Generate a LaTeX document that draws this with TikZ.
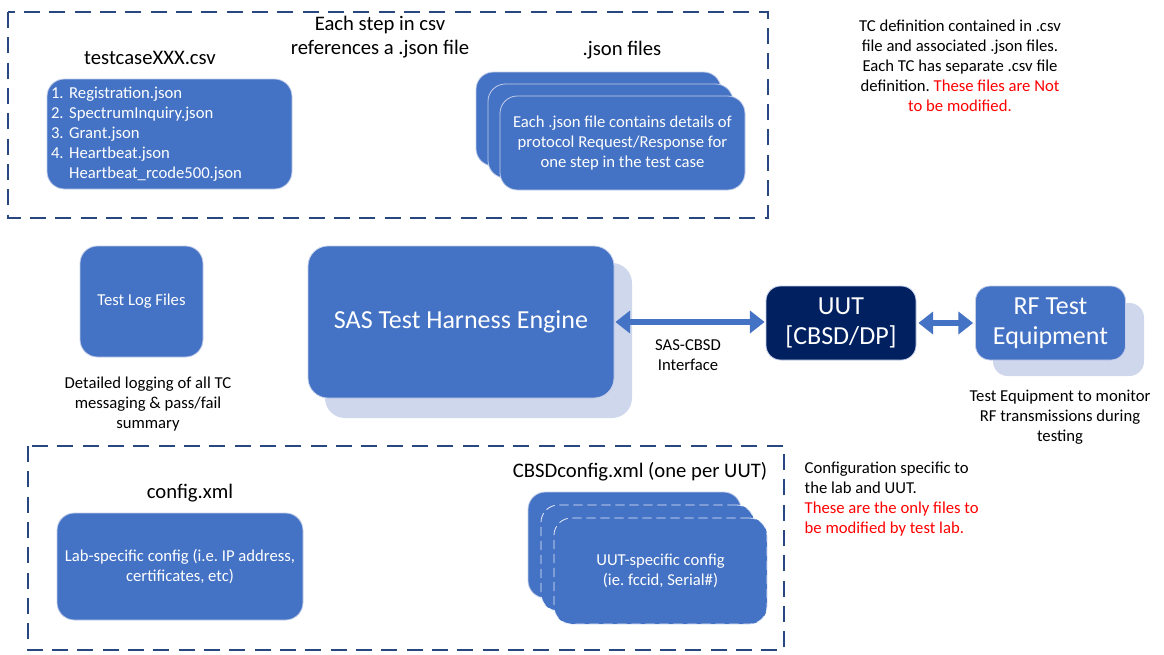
\documentclass[tikz,border=0pt]{standalone}
\usepackage{fontspec}
\setmainfont{Carlito}
\usetikzlibrary{arrows.meta}

\definecolor{boxblue}{RGB}{68,114,196}
\definecolor{paleblue}{RGB}{207,215,236}
\definecolor{uutnavy}{RGB}{0,32,96}
\definecolor{framecol}{RGB}{40,70,128}
\definecolor{edgecol}{RGB}{196,207,234}
\definecolor{notered}{RGB}{255,0,0}

\newcommand{\fsz}[2]{\fontsize{#1}{#2}\selectfont}

\begin{document}
\frenchspacing
\begin{tikzpicture}[
        x=0.75pt,y=-0.75pt,
        filebox/.style={rectangle,rounded corners=13pt,fill=boxblue,draw=edgecol,line width=0.6pt,text=white,font=\fsz{12.5}{15},align=center,inner sep=3pt},
        bigbox/.style={filebox,rounded corners=15pt,font=\fsz{19.5}{22.5}},
        shadebox/.style={rectangle,rounded corners=15pt,fill=paleblue,draw=none},
        dashedge/.style={draw=white!88!boxblue,dash pattern=on 7pt off 3.5pt},
        frame/.style={draw=framecol,line width=1.8pt,dash pattern=on 12pt off 7pt},
        title/.style={font=\fsz{15.5}{17.5},align=center},
        note/.style={font=\fsz{12.5}{15},align=center},
        linkarrow/.style={boxblue,line width=4.5pt,{Triangle[length=11pt,width=16.5pt]}-{Triangle[length=11pt,width=16.5pt]}},
        shortarrow/.style={boxblue,line width=4.5pt,{Triangle[length=11pt,width=16.5pt]}-{Triangle[length=11pt,width=16.5pt]}}
    ]
        \useasboundingbox (0,0) rectangle (1164,654);

        % test case definition
        \draw[frame] (8,12) rectangle (768,218);
        \node[title] (steptxt) at (380,37) {Each step in csv\\references a .json file};
        \node[title] (csvtitle) at (150,58) {testcaseXXX.csv};
        \node[filebox,align=left,text width=177.75pt,minimum height=82.5pt] (csv) at (169.5,134)
            {1. Registration.json\\2. SpectrumInquiry.json\\3. Grant.json\\4. Heartbeat.json\\\phantom{4. }Heartbeat\_rcode500.json};
        \node[title] (jsontitle) at (622,50) {.json files};
        \node[filebox,minimum width=183.75pt,minimum height=70.5pt] (jsonA) at (598.5,119) {};
        \node[filebox,minimum width=183.75pt,minimum height=70.5pt] (jsonB) at (610.5,131) {};
        \node[filebox,minimum width=183.75pt,minimum height=70.5pt] (jsonC) at (622.5,143)
            {Each .json file contains details of\\protocol Request/Response for\\one step in the test case};
        \node[note] (tcnote) at (960,66) {TC definition contained in .csv\\file and associated .json files.\\Each TC has separate .csv file\\definition. {\color{notered}These files are Not}\\{\color{notered}to be modified.}};

        % harness and UUT
        \node[filebox,minimum width=92.25pt,minimum height=83.25pt] (logs) at (141.5,301.5) {Test Log Files};
        \node[note] (lognote) at (148,404) {Detailed logging of all TC\\messaging \& pass/fail\\summary};
        \node[shadebox,minimum width=230.25pt,minimum height=116.25pt] (sasbg) at (478.5,340.5) {};
        \node[bigbox,minimum width=229.5pt,minimum height=114pt] (sas) at (461,322) {SAS Test Harness Engine};
        \node[bigbox,fill=uutnavy,rounded corners=11pt,minimum width=112.5pt,minimum height=55.5pt] (uut) at (841,323) {UUT\\{[CBSD/DP]}};
        \node[shadebox,rounded corners=11pt,minimum width=113.25pt,minimum height=54.75pt] (rfbg) at (1068.5,339.5) {};
        \node[bigbox,rounded corners=11pt,minimum width=112.5pt,minimum height=55.5pt] (rf) at (1050.5,323) {RF Test\\Equipment};
        \draw[linkarrow] ([xshift=0.75pt]sas.east) -- ([xshift=-0.75pt]sas.east -| uut.west);
        \draw[shortarrow] ([xshift=1.5pt]uut.east) -- ([xshift=-1.5pt]uut.east -| rf.west);
        \node[note] (ifacetxt) at (688,355) {SAS-CBSD\\Interface};
        \node[note] (rfnote) at (1060,417) {Test Equipment to monitor\\RF transmissions during\\testing};

        % lab configuration
        \draw[frame] (28,446) rectangle (784,650);
        \node[title] (cfgtitle) at (190,493) {config.xml};
        \node[filebox,minimum width=184.5pt,minimum height=80.25pt] (cfg) at (180,566.5) {Lab-specific config (i.e. IP address,\\certificates, etc)};
        \node[title] (cbsdtitle) at (640,472) {CBSDconfig.xml (one per UUT)};
        \node[filebox,minimum width=159.75pt,minimum height=79.5pt] (cbsdA) at (634.5,545) {};
        \node[filebox,dashedge,minimum width=159.75pt,minimum height=79.5pt] (cbsdB) at (647.5,558) {};
        \node[filebox,dashedge,minimum width=159.75pt,minimum height=79.5pt] (cbsdC) at (660.5,571) {UUT-specific config\\(ie. fccid, Serial\#)};
        \node[note,anchor=west,align=left] (cfgnote) at (800,499.5) {Configuration specific to\\the lab and UUT.\\{\color{notered}These are the only files to}\\{\color{notered}be modified by test lab.}};
    \end{tikzpicture}
\end{document}
